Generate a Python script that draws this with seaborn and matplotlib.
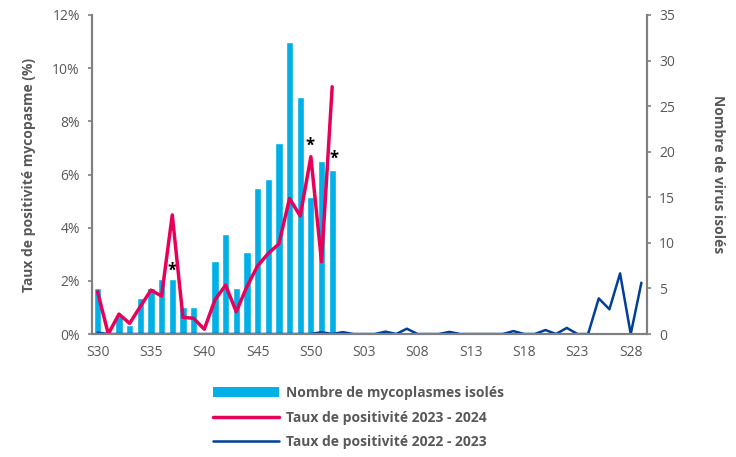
import numpy as np
import pandas as pd
import matplotlib
matplotlib.use("Agg")
import matplotlib.pyplot as plt
from matplotlib.patches import Patch
from matplotlib.lines import Line2D
from matplotlib.ticker import PercentFormatter
import seaborn as sns

# weeks S30 (2023) -> S29 (2024)
weeks = [f"S{w}" for w in range(30, 53)] + [f"S{w:02d}" for w in range(1, 30)]

# number of mycoplasmas isolated (right axis), S30..S52
isolates = [5, 0, 2, 1, 4, 5, 6, 6, 3, 3, 0, 8, 11, 5, 9, 16, 17, 21, 32, 26, 15, 19, 18]

# positivity rate 2023-2024 (%), S30..S52
rate_2324 = [1.59, 0.0, 0.75, 0.40, 1.03, 1.65, 1.43, 4.48, 0.63, 0.59, 0.18, 1.28,
             1.84, 0.84, 1.78, 2.56, 3.03, 3.39, 5.10, 4.44, 6.67, 2.72, 9.30]

# positivity rate 2022-2023 (%), S30..S29
rate_2223 = [0.05, 0, 0, 0, 0, 0, 0, 0, 0, 0, 0, 0, 0, 0, 0, 0, 0, 0, 0, 0, 0, 0.07, 0,
             0.07, 0, 0, 0, 0.09, 0, 0.2, 0, 0, 0, 0.08, 0, 0, 0, 0, 0, 0.11, 0, 0,
             0.15, 0, 0.23, 0, 0, 1.34, 0.93, 2.28, 0, 1.93]

# weeks flagged with an asterisk
star_weeks = ["S37", "S50", "S52"]

n = len(weeks)
bars = pd.DataFrame({"week": weeks, "count": isolates + [0] * (n - len(isolates))})
lines = pd.DataFrame({
    "pos": np.arange(n),
    "r2324": np.array(rate_2324 + [np.nan] * (n - len(rate_2324))) / 100,
    "r2223": np.array(rate_2223) / 100,
})

c_bar = "#00B0E6"
c_pink = "#E6005A"
c_navy = "#003F98"
c_grey = "#808080"
c_text = "#595959"

sns.set_style("white")
plt.rcParams["font.family"] = ["Open Sans", "DejaVu Sans"]

fig = plt.figure(figsize=(7.36, 4.57), dpi=100)
ax = fig.add_axes([0.1254, 0.2691, 0.7533, 0.6981])
ax2 = ax.twinx()

# bars on the right axis
sns.barplot(data=bars, x="week", y="count", order=weeks, color=c_bar,
            width=0.68, saturation=1, ax=ax2)
ax2.set_ylim(0, 35)
ax2.set_yticks(range(0, 36, 5))

# lines on the left axis, drawn above the bars
ax.set_zorder(ax2.get_zorder() + 1)
ax.patch.set_visible(False)
sns.lineplot(data=lines, x="pos", y="r2223", color=c_navy, linewidth=1.8, ax=ax)
sns.lineplot(data=lines, x="pos", y="r2324", color=c_pink, linewidth=2.5, ax=ax)
ax.set_ylim(0, 0.12)
ax.set_yticks(np.arange(0, 0.121, 0.02))
ax.yaxis.set_major_formatter(PercentFormatter(1.0, decimals=0))
ax.set_xlim(-0.5, n - 0.5)

# x ticks: labels every 5 weeks, tick marks on category boundaries
ax.set_xticks(np.arange(0, n, 5))
ax.set_xticklabels(weeks[::5])
ax.set_xticks(np.arange(-0.5, n, 5), minor=True)
ax.tick_params(axis="x", which="major", length=0, pad=8, labelsize=10, labelcolor=c_text)
ax.tick_params(axis="x", which="minor", length=4, width=1.2, color=c_grey)
ax.tick_params(axis="y", length=3, width=1.2, color=c_grey, labelsize=10, labelcolor=c_text, pad=6)
ax2.tick_params(axis="y", length=3, width=1.2, color=c_grey, labelsize=10, labelcolor=c_text, pad=6)
ax2.set_xlabel("")
ax.set_xlabel("")

for a in (ax, ax2):
    a.spines["top"].set_visible(False)
    for s in ("left", "right", "bottom"):
        a.spines[s].set_color(c_grey)
        a.spines[s].set_linewidth(1.5)
    a.grid(False)

ax.set_ylabel("Taux de positivité mycopasme (%)", fontsize=10, fontweight="bold",
              color=c_text, labelpad=12)
ax2.set_ylabel("Nombre de virus isolés", fontsize=10, fontweight="bold",
               color=c_text, rotation=270, labelpad=36)

# asterisks
star_y = {"S37": 6.9, "S50": 20.7, "S52": 19.2}
star_dx = {"S37": 0.0, "S50": -0.1, "S52": 0.2}
for w in star_weeks:
    i = weeks.index(w)
    ax2.text(i + star_dx[w], star_y[w], "*", ha="center", va="center",
             fontsize=12, fontweight="bold", color="black")

handles = [
    Patch(facecolor=c_bar, edgecolor="none"),
    Line2D([0], [0], color=c_pink, linewidth=2.5),
    Line2D([0], [0], color=c_navy, linewidth=1.8),
]
labels = ["Nombre de mycoplasmes isolés", "Taux de positivité 2023 - 2024",
          "Taux de positivité 2022 - 2023"]
leg = fig.legend(handles, labels, loc="upper left", bbox_to_anchor=(0.289, 0.155),
                 frameon=False, handlelength=4.8, handletextpad=0.45,
                 labelspacing=0.75, borderpad=0, borderaxespad=0,
                 prop={"size": 10, "weight": "bold"})
for t in leg.get_texts():
    t.set_color(c_text)

fig.savefig("out.png", dpi=100)
